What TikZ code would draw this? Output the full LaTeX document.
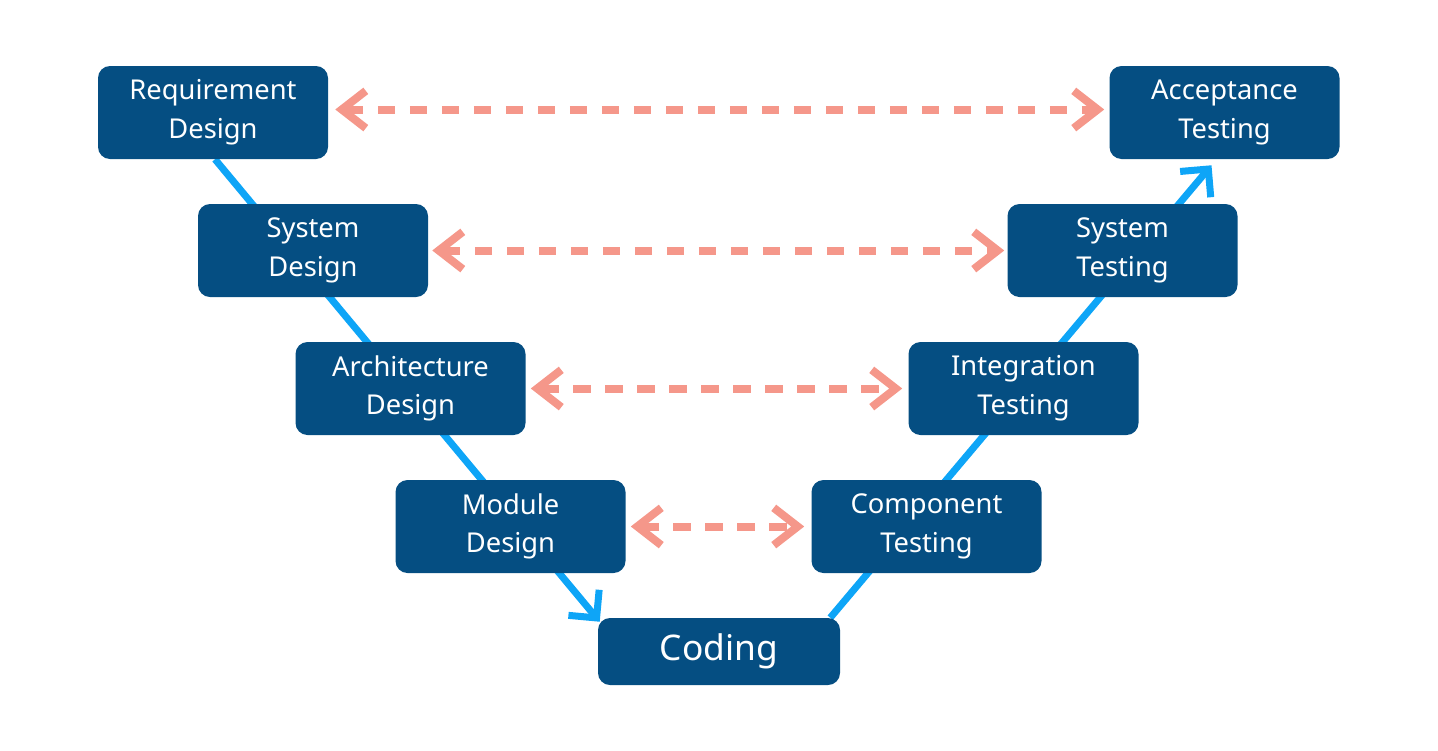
\documentclass[tikz,border=0pt]{standalone}
\usepackage{fontspec}
\setmainfont{Noto Sans}
\usetikzlibrary{arrows.meta,backgrounds,calc}
\definecolor{boxblue}{HTML}{054E82}
\definecolor{lineblue}{HTML}{0EA5F7}
\definecolor{salmon}{HTML}{F5978A}
\tikzset{
  stage/.style={draw=none, fill=boxblue, rounded corners=9pt, text=white,
    minimum width=172.5pt, minimum height=69.75pt, align=center,
    font=\fontsize{20.5pt}{29pt}\selectfont, inner sep=0pt},
  codebox/.style={stage, minimum width=181.5pt, minimum height=50.25pt,
    font=\fontsize{26.5pt}{32pt}\selectfont},
  flow/.style={draw=lineblue, line width=5.25pt,
    -{Straight Barb[length=15pt,width=30pt,line width=5.25pt]}},
  verify/.style={draw=salmon, line width=6pt, dash pattern=on 13pt off 11pt,
    {Straight Barb[length=18pt,width=28pt,line width=6pt]}-{Straight Barb[length=18pt,width=28pt,line width=6pt]}}
}
\begin{document}
\begin{tikzpicture}[x=0.75pt,y=-0.75pt]
\useasboundingbox (0,0) rectangle (1438,750);
\node[stage] (req) at (213,112.5) {Requirement\\Design};
\node[stage] (sysd) at (313,250.5) {System\\Design};
\node[stage] (arch) at (410.5,388.5) {Architecture\\Design};
\node[stage] (mod) at (510.5,526.5) {Module\\Design};
\node[codebox] (code) at (719,651.5) {Coding};
\node[stage] (comp) at (926.5,526.5) {Component\\Testing};
\node[stage] (integ) at (1023.5,388.5) {Integration\\Testing};
\node[stage] (syst) at (1122.5,250.5) {System\\Testing};
\node[stage] (acc) at (1224.5,112.5) {Acceptance\\Testing};
\begin{scope}[on background layer]
\draw[flow] ($(req.south)+(2,0)$) -- ($(code.north west)+(2,4)$);
\draw[flow] ($(code.north east)+(-10,0)$) -- ($(acc.south)+(-13,6)$);
\end{scope}
\draw[verify] ($(req.east)+(7,-3)$) -- ($(acc.west)+(-5,-3)$);
\draw[verify] ($(sysd.east)+(4,0)$) -- ($(syst.west)+(-3,0)$);
\draw[verify] ($(arch.east)+(5,0)$) -- ($(integ.west)+(-6,0)$);
\draw[verify] ($(mod.east)+(5,0)$) -- ($(comp.west)+(-7,0)$);
\end{tikzpicture}
\end{document}
